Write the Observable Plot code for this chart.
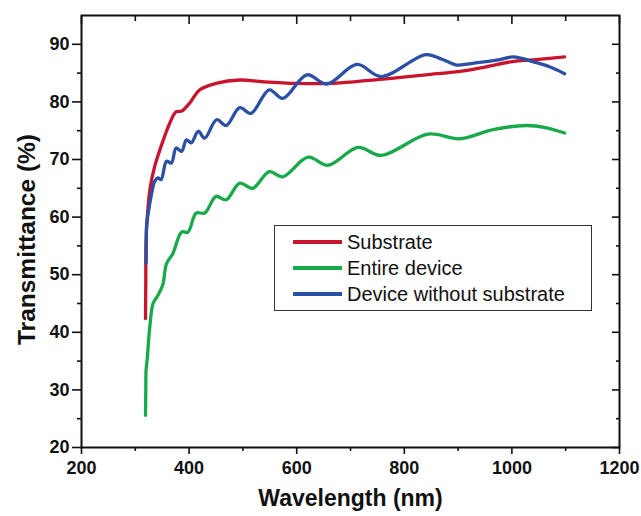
<!DOCTYPE html>
<html>
<head>
<meta charset="utf-8">
<script src="https://cdn.jsdelivr.net/npm/d3@7"></script>
<script src="https://cdn.jsdelivr.net/npm/@observablehq/plot@0.6"></script>
<style>
  html, body { margin: 0; padding: 0; background: #fff; }
  #wrap { position: relative; width: 641px; height: 516px; font-family: "Liberation Sans", Arial, sans-serif; }
  #legend { position: absolute; left: 274px; top: 225px; width: 318px; height: 86px; box-sizing: border-box;
            border: 1.5px solid #333; background: #fff; padding-top: 3px; }
  .row { display: flex; align-items: center; height: 26px; }
  .sw { margin-left: 18px; width: 49px; height: 3.5px; }
  .lab { margin-left: 5px; font-size: 20px; color: #111; white-space: nowrap; }
</style>
</head>
<body>
<div id="wrap"></div>
<script>
// ---- data ----
const seriesNames = ["Substrate", "Entire device", "Device without substrate"];
const seriesColors = ["#c8142c", "#17a94a", "#2a4fa6"];

const substrateWl = [319, 319.5, 320, 322, 327, 336, 348, 364, 376, 386, 401, 420, 450, 494, 537, 600, 661, 754, 840, 903, 952, 1001, 1039, 1098];
const substrateT  = [42.4, 49, 56, 59.5, 64.7, 68.8, 72.3, 76.3, 78.3, 78.4, 79.8, 82.1, 83.2, 83.8, 83.5, 83.2, 83.2, 83.9, 84.7, 85.3, 86.1, 87.0, 87.3, 87.8];

const entireWl = [319, 319.5, 320, 322, 327, 333, 342, 351, 358, 370, 386, 398, 413, 429, 450, 469, 494, 518, 549, 574, 621, 658, 714, 757, 844, 903, 965, 1027, 1064, 1098];
const entireT  = [25.6, 29.9, 33.4, 35.2, 41.0, 45.0, 46.4, 48.2, 51.9, 53.7, 57.4, 57.4, 60.7, 60.7, 63.6, 63.0, 65.9, 65.0, 67.9, 67.0, 70.4, 69.0, 72.1, 70.7, 74.4, 73.6, 75.2, 75.9, 75.5, 74.6];

const withoutWl = [320, 320.5, 321, 323, 333, 336, 342, 348, 358, 367, 376, 386, 395, 404, 417, 429, 451, 469, 494, 515, 549, 574, 619, 656, 712, 757, 840, 870, 897, 920, 952, 975, 1001, 1020, 1039, 1070, 1098];
const withoutT  = [52.0, 56, 58.6, 60.1, 65.3, 66.2, 66.8, 66.5, 69.7, 69.4, 72.0, 71.4, 73.4, 72.9, 74.9, 73.7, 76.9, 75.9, 79.0, 78.0, 82.1, 80.6, 84.7, 83.1, 86.5, 84.4, 88.2, 87.4, 86.4, 86.6, 87.0, 87.3, 87.8, 87.5, 87.0, 86.1, 84.9];

const xMajor = [200, 400, 600, 800, 1000, 1200];
const xMinor = [300, 500, 700, 900, 1100];
const yMajor = [20, 30, 40, 50, 60, 70, 80, 90];
const yMinor = [25, 35, 45, 55, 65, 75, 85];
const xTitle = "Wavelength (nm)";
const yTitle = "Transmittance (%)";

// ---- build table ----
const rows = [];
[[substrateWl, substrateT], [entireWl, entireT], [withoutWl, withoutT]].forEach(([wl, t], i) => {
  wl.forEach((w, j) => rows.push({series: seriesNames[i], wl: w, t: t[j]}));
});

const fontOpts = {fontSize: 18, fontWeight: "bold", fontFamily: "Liberation Sans, Arial, sans-serif"};
const tickStyle = {label: null, stroke: "#111", strokeWidth: 1.6};

const chart = Plot.plot({
  width: 641,
  height: 516,
  marginLeft: 81,
  marginRight: 22,
  marginTop: 15,
  marginBottom: 69,
  style: {fontFamily: "Liberation Sans, Arial, sans-serif", color: "#111", background: "#fff"},
  x: {domain: [200, 1200]},
  y: {domain: [20, 95]},
  color: {domain: seriesNames, range: seriesColors},
  marks: [
    Plot.lineY(rows, {x: "wl", y: "t", z: "series", stroke: "series", strokeWidth: 3.3, curve: "catmull-rom"}),
    Plot.frame({stroke: "#111", strokeWidth: 2}),
    Plot.axisX({ticks: xMajor, tickSize: 7, tickPadding: 7, tickFormat: d => String(d), ...tickStyle, ...fontOpts}),
    Plot.axisX({ticks: xMinor, tickSize: 4, tickFormat: () => "", ...tickStyle}),
    Plot.axisX({anchor: "top", ticks: xMajor, tickSize: -8, tickFormat: () => "", ...tickStyle}),
    Plot.axisX({anchor: "top", ticks: xMinor, tickSize: -5, tickFormat: () => "", ...tickStyle}),
    Plot.axisY({ticks: yMajor, tickSize: 9, tickPadding: 3, tickFormat: d => String(d), ...tickStyle, ...fontOpts}),
    Plot.axisY({ticks: yMinor, tickSize: 4, tickFormat: () => "", ...tickStyle}),
    Plot.axisY({anchor: "right", ticks: yMajor, tickSize: -8, tickFormat: () => "", ...tickStyle}),
    Plot.axisY({anchor: "right", ticks: yMinor, tickSize: -4, tickFormat: () => "", ...tickStyle}),
    Plot.text([xTitle], {frameAnchor: "bottom", textAnchor: "middle", dy: 58, text: d => d, fontSize: 23, fontWeight: "bold", fill: "#111"}),
    Plot.text([yTitle], {frameAnchor: "left", textAnchor: "middle", dx: -54, dy: 8, rotate: -90, text: d => d, fontSize: 24.5, fontWeight: "bold", fill: "#111"})
  ]
});

const wrap = document.getElementById("wrap");
wrap.appendChild(chart);

// legend
const legend = document.createElement("div");
legend.id = "legend";
seriesNames.forEach((name, i) => {
  const r = document.createElement("div");
  r.className = "row";
  const sw = document.createElement("span");
  sw.className = "sw";
  sw.style.background = seriesColors[i];
  const lab = document.createElement("span");
  lab.className = "lab";
  lab.textContent = name;
  r.appendChild(sw);
  r.appendChild(lab);
  legend.appendChild(r);
});
wrap.appendChild(legend);
</script>
</body>
</html>
